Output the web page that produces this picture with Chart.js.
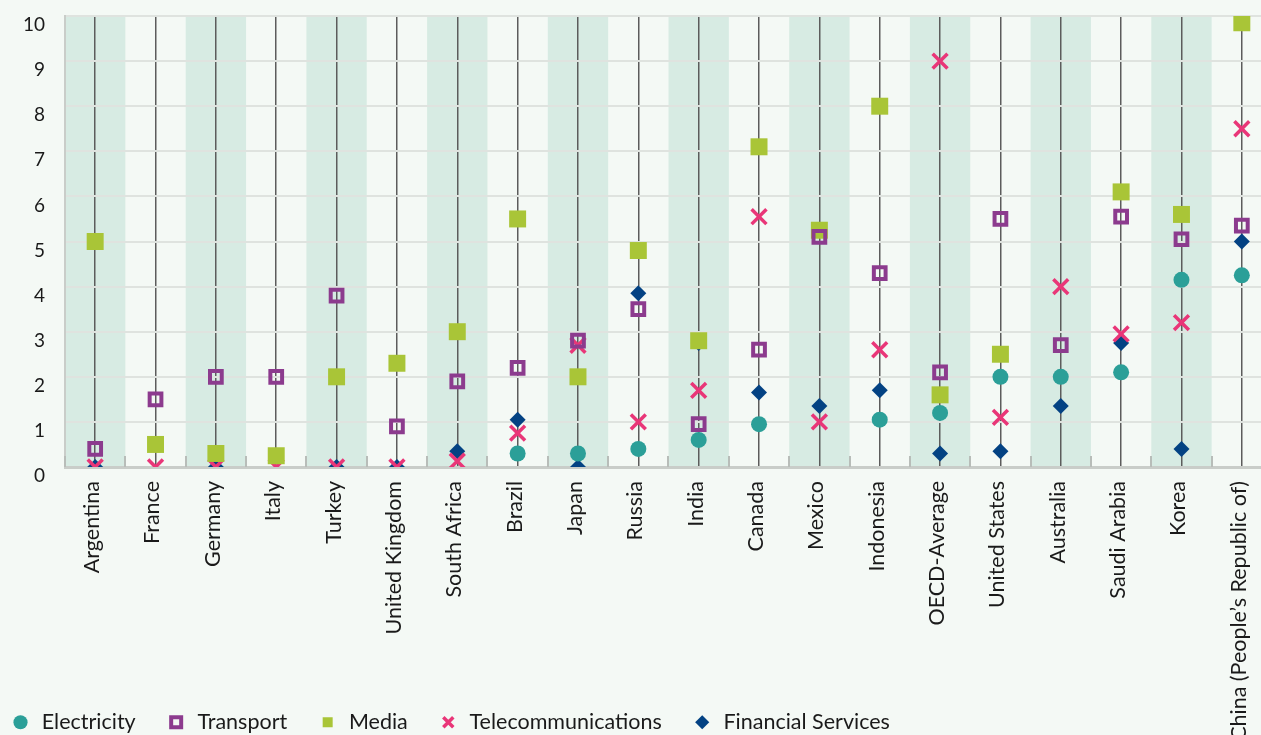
<!DOCTYPE html>
<html>
<head>
<meta charset="utf-8">
<script src="https://cdn.jsdelivr.net/npm/chart.js@4/dist/chart.umd.min.js"></script>
<style>
  html, body { margin: 0; padding: 0; background: #f4f9f5; overflow: hidden; width: 1261px; height: 735px; }
  #wrap { position: absolute; left: -20px; top: 0; width: 1306px; height: 743px; }
  canvas { display: block; }
</style>
</head>
<body>
<div id="wrap"><canvas id="c" width="1306" height="743"></canvas></div>
<script>
const categories = ['Argentina','France','Germany','Italy','Turkey','United Kingdom','South Africa','Brazil','Japan','Russia','India','Canada','Mexico','Indonesia','OECD-Average','United States','Australia','Saudi Arabia','Korea','China (People\u2019s Republic of)'];
const electricity = [null,null,null,null,null,null,null,0.3,0.3,0.4,0.6,0.95,null,1.05,1.2,2.0,2.0,2.1,4.15,4.25];
const transport = [0.4,1.5,2.0,2.0,3.8,0.9,1.9,2.2,2.8,3.5,0.95,2.6,5.1,4.3,2.1,5.5,2.7,5.55,5.05,5.35];
const media = [5.0,0.5,0.3,0.25,2.0,2.3,3.0,5.5,2.0,4.8,2.8,7.1,5.25,8.0,1.6,2.5,null,6.1,5.6,9.85];
const telecommunications = [0,0,0,0,0,0,0.13,0.75,2.7,1.0,1.7,5.55,1.0,2.6,9.0,1.1,4.0,2.95,3.2,7.5];
const financialServices = [0,null,0,null,0,0,0.35,1.05,0,3.85,2.75,1.65,1.35,1.7,0.3,0.35,1.35,2.75,0.4,5.0];
const yTicks = [0,1,2,3,4,5,6,7,8,9,10];

const BG = '#f4f9f5';
const BAND = '#d7ebe3';

const bandPlugin = {
  id: 'bands',
  afterLayout(chart) {
    // let the rotated category labels run to the canvas edge (as in the original, where they are cut)
    chart.scales.x.bottom = chart.height;
  },
  beforeDraw(chart) {
    const {ctx, chartArea, scales} = chart;
    const x = scales.x;
    ctx.save();
    ctx.fillStyle = BG;
    ctx.fillRect(0, 0, chart.width, chart.height);
    const step = x.getPixelForValue(1) - x.getPixelForValue(0);
    ctx.fillStyle = BAND;
    for (let i = 0; i < categories.length; i += 2) {
      const c = x.getPixelForValue(i);
      ctx.fillRect(c - step / 2, chartArea.top, step, chartArea.bottom - chartArea.top);
    }
    ctx.restore();
  },
  beforeDatasetsDraw(chart) {
    const {ctx, chartArea, scales} = chart;
    const x = scales.x;
    const step = x.getPixelForValue(1) - x.getPixelForValue(0);
    ctx.save();
    ctx.strokeStyle = '#b8bdb9';
    ctx.lineWidth = 2;
    ctx.beginPath();
    for (let i = 0; i <= categories.length; i++) {
      const e = Math.round(x.getPixelForValue(0) - step / 2 + i * step);
      ctx.moveTo(e, chartArea.bottom - 11);
      ctx.lineTo(e, chartArea.bottom);
    }
    ctx.stroke();
    ctx.restore();
  }
};

function ds(label, data, style, radius, fill, stroke, bw) {
  return {
    label, data, showLine: false,
    pointStyle: style, pointRadius: radius, pointHoverRadius: radius,
    backgroundColor: fill, borderColor: stroke, borderWidth: bw,
    pointBackgroundColor: fill, pointBorderColor: stroke, pointBorderWidth: bw
  };
}

new Chart(document.getElementById('c'), {
  type: 'line',
  data: {
    labels: categories,
    datasets: [
      ds('Electricity', electricity, 'circle', 8, '#2b9f98', '#2b9f98', 0),
      ds('Transport', transport, 'rect', 8.3, 'rgba(0,0,0,0)', '#8c3b8e', 4),
      ds('Media', media, 'rect', 12, '#a9c537', '#a9c537', 0),
      ds('Telecommunications', telecommunications, 'crossRot', 10.5, '#e93678', '#e93678', 3.5),
      ds('Financial Services', financialServices, 'rectRot', 8, '#034283', '#034283', 0)
    ]
  },
  options: {
    responsive: false,
    animation: false,
    devicePixelRatio: 1,
    layout: { padding: { top: 16, left: 0, right: 0, bottom: 0 } },
    plugins: {
      tooltip: { enabled: false },
      legend: {
        position: 'bottom',
        align: 'start',
        labels: {
          usePointStyle: true,
          boxWidth: 21,
          boxHeight: 10,
          padding: 30,
          color: '#1a1a1a',
          font: { family: 'Lato', size: 21.5 }
        }
      }
    },
    scales: {
      x: {
        type: 'category',
        offset: true,
        afterFit(scale) { scale.height = 214.5; scale.paddingLeft = 0; scale.paddingRight = 0; },
        grid: { offset: false, color: '#5c5c5c', lineWidth: 1.5, drawTicks: false },
        border: { display: true, color: '#c9cdc9', width: 3 },
        ticks: {
          autoSkip: false, minRotation: 90, maxRotation: 90, padding: 14, labelOffset: -3,
          color: '#1a1a1a', font: { family: 'Lato', size: 21.5 }
        }
      },
      y: {
        min: 0, max: 10,
        afterFit(scale) { scale.width = 85; scale.paddingTop = 0; scale.paddingBottom = 0; },
        afterBuildTicks(scale) { scale.ticks = yTicks.map(v => ({ value: v })); },
        grid: { color: '#dfe3df', lineWidth: 2, drawTicks: false },
        border: { display: true, color: '#c9cdc9', width: 2 },
        ticks: {
          padding: 20, labelOffset: 9,
          color: '#1a1a1a', font: { family: 'Lato', size: 19 }
        }
      }
    }
  },
  plugins: [bandPlugin]
});
</script>
</body>
</html>
